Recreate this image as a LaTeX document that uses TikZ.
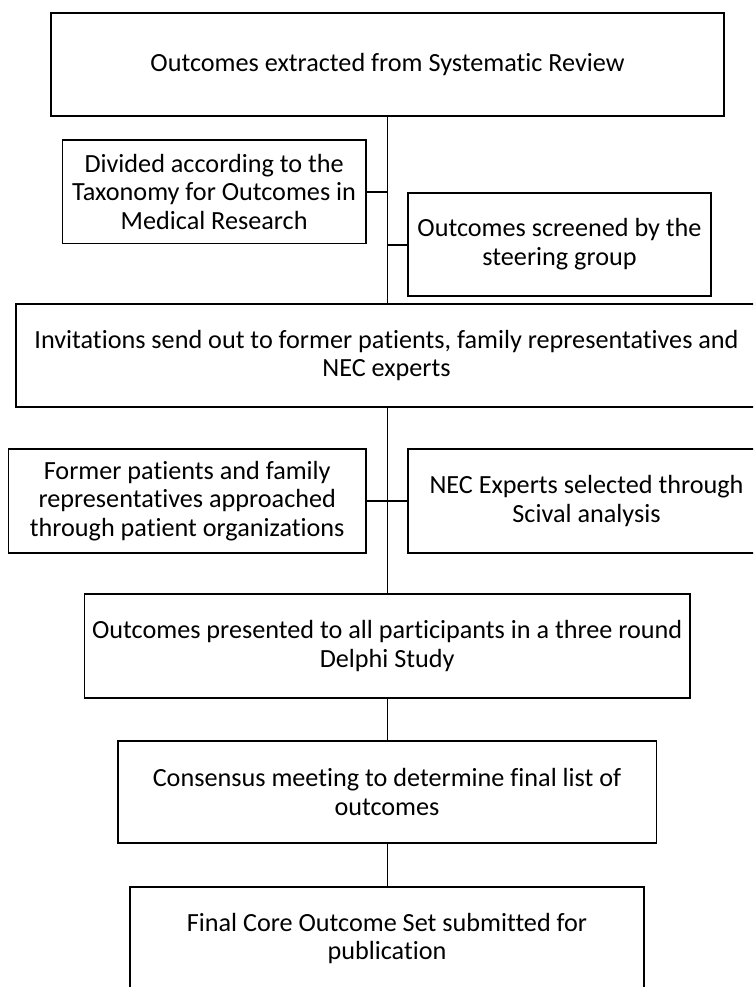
\documentclass[tikz,border=0pt]{standalone}
\usepackage{fontspec}
\setmainfont{Carlito}[Ligatures=NoCommon]
\begin{document}
\begin{tikzpicture}[x=1pt,y=-1pt,
  stepbox/.style={draw=black,line width=1.7pt,inner sep=0pt,align=center,
    font=\fontsize{26.2}{28.6}\selectfont},
  link/.style={draw=black,line width=1.7pt}]
\useasboundingbox (0,0) rectangle (753,987);
\clip (0,0) rectangle (753,987);
\node[stepbox,minimum width=673pt,minimum height=102.4pt] (b1) at (387.5,64.5)
  {Outcomes extracted from Systematic Review};
\node[stepbox,minimum width=303.4pt,minimum height=103.3pt] (b2) at (214.1,191.7)
  {Divided according to the\\Taxonomy for Outcomes in\\Medical Research};
\node[stepbox,minimum width=303pt,minimum height=103.3pt] (b3) at (559.5,244.3)
  {Outcomes screened by the\\steering group};
\node[stepbox,minimum width=741pt,minimum height=102.4pt] (b4) at (386.5,355.5)
  {Invitations send out to former patients, family representatives and\\NEC experts};
\node[stepbox,minimum width=357.2pt,minimum height=103.4pt] (b5) at (187.2,501)
  {Former patients and family\\representatives approached\\through patient organizations};
\node[stepbox,minimum width=357pt,minimum height=103.4pt] (b6) at (586.5,501)
  {NEC Experts selected through\\Scival analysis};
\node[stepbox,minimum width=605.5pt,minimum height=103.4pt] (b7) at (387.2,646)
  {Outcomes presented to all participants in a three round\\Delphi Study};
\node[stepbox,minimum width=538.7pt,minimum height=102.6pt] (b8) at (387,792)
  {Consensus meeting to determine final list of\\outcomes};
\node[stepbox,minimum width=513.8pt,minimum height=103pt] (b9) at (387,938.5)
  {Final Core Outcome Set submitted for\\publication};
\coordinate (t1) at (387.5,191.7);
\coordinate (t2) at (387.5,245);
\path[link] (b1.south) -- (b1.south |- b4.north);
\path[link] (b2.east) -- (t1);
\path[link] (t2) -- (b3.west |- t2);
\path[link] (b4.south -| b1.south) -- (b7.north -| b1.south);
\path[link] (b5.east) -- (b6.west);
\path[link] (b7.south -| b1.south) -- (b8.north -| b1.south);
\path[link] (b8.south -| b1.south) -- (b9.north -| b1.south);
\end{tikzpicture}
\end{document}
